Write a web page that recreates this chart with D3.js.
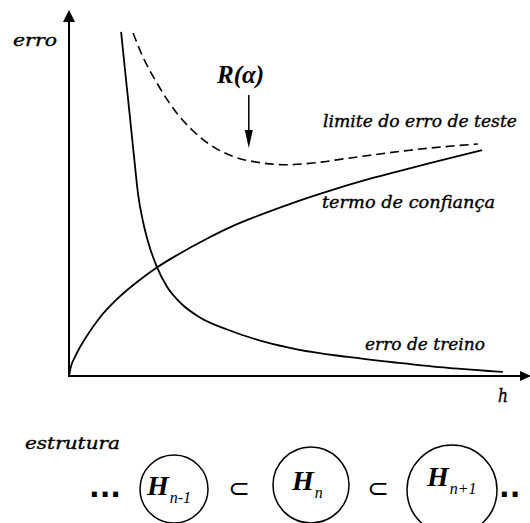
<!DOCTYPE html>
<html>
<head>
<meta charset="utf-8">
<script src="https://cdn.jsdelivr.net/npm/d3@7"></script>
<style>
  html, body { margin: 0; padding: 0; background: #fff; }
  svg { display: block; }
  .lbl { font-family: "DejaVu Serif", serif; font-style: italic; fill: #000; stroke: #000; stroke-width: 0.35; }
</style>
</head>
<body>
<svg id="chart" width="530" height="523"></svg>
<script>
// Capacity h (0-100) and error (0-100) for the three curves
const trainH   = [11.3, 12.2, 13.2, 14.1, 15.0, 16.0, 17.2, 18.9, 21.3, 24.5, 28.4, 34.3, 42.5, 49.7, 60.5, 71.4, 82.2, 94.1];
const trainErr = [94.0, 83.0, 71.0, 60.0, 49.5, 42.5, 36.5, 30.3, 24.3, 19.6, 16.0, 12.7, 9.3, 7.2, 5.2, 3.6, 2.2, 1.1];

const confH   = [0, 0.4, 1.3, 3.9, 6.7, 10.4, 15.4, 18.9, 23.4, 29.9, 35.6, 42.5, 49.7, 57.0, 64.2, 71.4, 78.7, 89.6];
const confErr = [0, 2.5, 5.2, 11.0, 16.0, 21.0, 26.3, 29.5, 33.0, 37.5, 41.0, 44.5, 47.8, 50.8, 53.5, 55.9, 58.3, 61.7];

const boundH   = [13.9, 16.1, 19.1, 21.3, 23.4, 26.9, 30.6, 35.6, 41.4, 47.0, 53.0, 60.0, 67.0, 74.0, 81.0, 88.7];
const boundErr = [93.7, 87.0, 80.0, 75.5, 71.8, 67.0, 63.2, 60.0, 58.3, 57.7, 58.2, 59.4, 60.6, 61.7, 62.6, 63.4];

// Position of the guaranteed-risk minimum marker
const riskH = 39.0;

// Nested structure of hypothesis spaces
const structSub = ["n-1", "n", "n+1"];

const svg = d3.select("#chart");

const x = d3.scaleLinear().domain([0, 100]).range([69, 530]);
const y = d3.scaleLinear().domain([0, 100]).range([376, 10]);

const zip = (a, b) => a.map((v, i) => [v, b[i]]);
const line = d3.line().x(d => x(d[0])).y(d => y(d[1])).curve(d3.curveMonotoneX);

// Axes with arrowheads
const axes = svg.append("g").attr("stroke", "#000").attr("fill", "none");
axes.append("line").attr("x1", x(0)).attr("y1", y(0) + 1).attr("x2", x(0)).attr("y2", y(100) + 8).attr("stroke-width", 2);
axes.append("line").attr("x1", x(0)).attr("y1", y(0)).attr("x2", x(100) - 6).attr("y2", y(0)).attr("stroke-width", 2.2);
svg.append("path")
  .attr("d", `M${x(0)},${y(100)} L${x(0) - 6},${y(100) + 12} L${x(0) + 6},${y(100) + 12} Z`)
  .attr("fill", "#000");
svg.append("path")
  .attr("d", `M${x(100) + 1},${y(0)} L${x(100) - 10},${y(0) - 5} L${x(100) - 10},${y(0) + 5} Z`)
  .attr("fill", "#000");

// Curves
svg.append("path").datum(zip(trainH, trainErr))
  .attr("d", line).attr("fill", "none").attr("stroke", "#000").attr("stroke-width", 1.8);
svg.append("path").datum(zip(confH, confErr))
  .attr("d", line).attr("fill", "none").attr("stroke", "#000").attr("stroke-width", 1.8);
svg.append("path").datum(zip(boundH, boundErr))
  .attr("d", line).attr("fill", "none").attr("stroke", "#000").attr("stroke-width", 1.6)
  .attr("stroke-dasharray", "9,5");

// R(alpha) marker arrow
const ax = x(riskH);
svg.append("line").attr("x1", ax).attr("y1", 95).attr("x2", ax).attr("y2", 134)
  .attr("stroke", "#000").attr("stroke-width", 1.5);
svg.append("path").attr("d", `M${ax - 4},${130} L${ax + 4},${130} L${ax},${148} Z`).attr("fill", "#000");
svg.append("text").attr("x", 217).attr("y", 83)
  .attr("font-family", "Liberation Serif, serif").attr("font-style", "italic").attr("font-weight", "bold")
  .attr("font-size", 25).text("R(α)");

// Curve and axis labels
const labels = [
  { t: "erro", x: 13, y: 46, w: 44, s: 17 },
  { t: "limite do erro de teste", x: 323, y: 127, w: 194, s: 16 },
  { t: "termo de confiança", x: 322, y: 208, w: 173, s: 16 },
  { t: "erro de treino", x: 365, y: 350, w: 120, s: 16 },
  { t: "h", x: 498, y: 402, w: 10, s: 18 },
  { t: "estrutura", x: 25, y: 449, w: 95, s: 16 }
];
svg.selectAll("text.lbl").data(labels).enter().append("text")
  .attr("class", "lbl")
  .attr("x", d => d.x).attr("y", d => d.y)
  .attr("font-size", d => d.s)
  .attr("textLength", d => d.w).attr("lengthAdjust", "spacingAndGlyphs")
  .text(d => d.t);

// Structure row: H_{n-1} ⊂ H_n ⊂ H_{n+1}
const circles = [
  { cx: 174, cy: 489, r: 34, hx: 147, hy: 495 },
  { cx: 311, cy: 485, r: 38, hx: 292, hy: 490 },
  { cx: 452, cy: 490, r: 45, hx: 427, hy: 486 }
];
const g = svg.append("g");
circles.forEach((c, i) => {
  g.append("circle").attr("cx", c.cx).attr("cy", c.cy).attr("r", c.r)
    .attr("fill", "none").attr("stroke", "#000").attr("stroke-width", 1.5);
  const t = g.append("text").attr("x", c.hx).attr("y", c.hy)
    .attr("font-family", "Liberation Serif, serif").attr("font-style", "italic");
  t.append("tspan").attr("font-weight", "bold").attr("font-size", 28).text("H");
  t.append("tspan").attr("font-size", 16).attr("dy", 8).attr("dx", 1).text(structSub[i]);
});

// Subset symbols and ellipses
[239, 378].forEach(cx => {
  g.append("text").attr("x", cx).attr("y", 497).attr("text-anchor", "middle")
    .attr("font-family", "DejaVu Sans, sans-serif").attr("font-size", 26).text("⊂");
});
g.append("text").attr("x", 89).attr("y", 497)
  .attr("font-family", "DejaVu Sans, sans-serif").attr("font-weight", "bold")
  .attr("font-size", 28).text("...");
g.append("text").attr("x", 499).attr("y", 497)
  .attr("font-family", "DejaVu Sans, sans-serif").attr("font-weight", "bold")
  .attr("font-size", 28).text("..");
</script>
</body>
</html>
